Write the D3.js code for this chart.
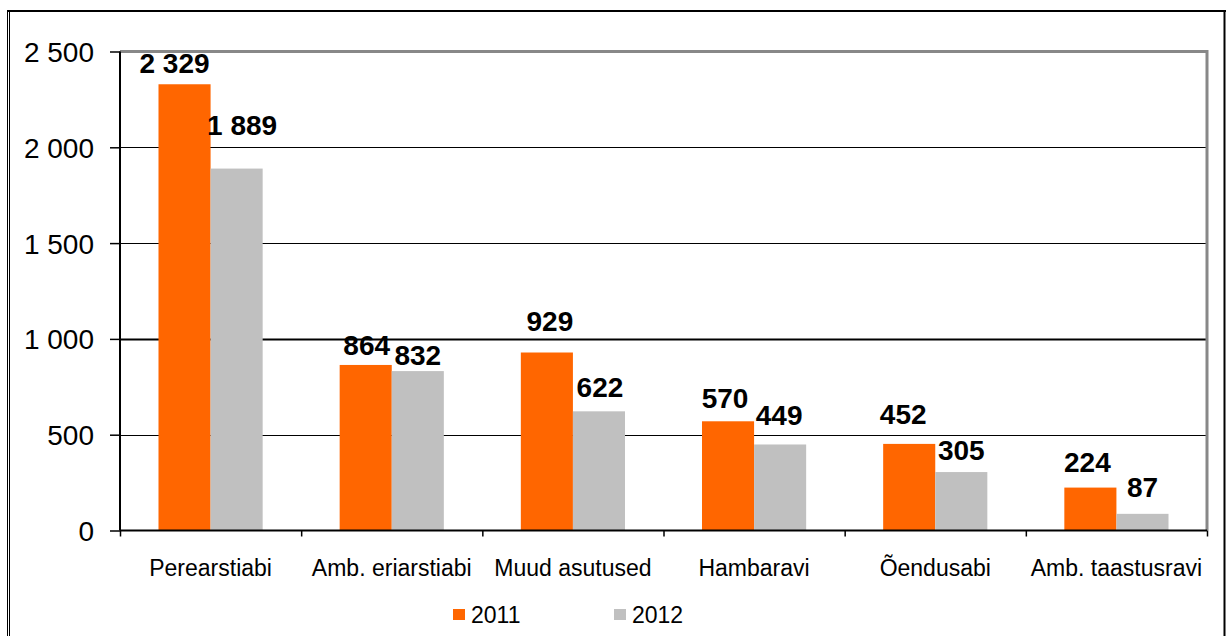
<!DOCTYPE html>
<html><head><meta charset="utf-8">
<script src="https://cdn.jsdelivr.net/npm/d3@7"></script>
<style>
html,body{margin:0;padding:0;background:#fff;}
svg{display:block;font-family:"Liberation Sans",Arial,sans-serif;}
</style></head>
<body>
<svg id="chart" width="1226" height="636"></svg>
<script>
const categories = ["Perearstiabi","Amb. eriarstiabi","Muud asutused","Hambaravi","Õendusabi","Amb. taastusravi"];
const series = ["2011","2012"];
const values2011 = [2329, 864, 929, 570, 452, 224];
const values2012 = [1889, 832, 622, 449, 305, 87];
const yTicks = [0, 500, 1000, 1500, 2000, 2500];
const colors = ["#FF6600", "#C0C0C0"];

// label placement nudges (layout only), px: dx horizontal, dy = baseline distance above bar top
const labelNudge = [
  [{dx:-10,dy:11},{dx:5.5,dy:34}],
  [{dx:1,dy:10},{dx:0,dy:6}],
  [{dx:3,dy:22},{dx:1,dy:14}],
  [{dx:-3,dy:13},{dx:-1,dy:19}],
  [{dx:-6,dy:20},{dx:0,dy:12}],
  [{dx:-3,dy:15.5},{dx:0,dy:17}]
];

const fmt = d3.formatLocale({decimal:",", thousands:" ", grouping:[3], currency:["",""]}).format(",d");

const svg = d3.select("#chart");
const mLeft = 120, mRight = 1207, mTop = 51.5, mBottom = 530.5;

const x0 = d3.scaleBand().domain(categories).range([mLeft, mRight]).paddingInner(0.425).paddingOuter(0.2125);
const x1 = d3.scaleBand().domain(series).range([0, x0.bandwidth()]);
const y = d3.scaleLinear().domain([0, 2500]).range([mBottom, mTop]);
const xb = d3.scaleLinear().domain([0, categories.length]).range([mLeft, mRight]);

// outer border
svg.append("line").attr("x1",7.5).attr("x2",7.5).attr("y1",10).attr("y2",640).attr("stroke","#000").attr("stroke-width",1);
svg.append("line").attr("x1",9.5).attr("x2",9.5).attr("y1",11).attr("y2",640).attr("stroke","#000").attr("stroke-width",1);
svg.append("line").attr("x1",7).attr("x2",1226).attr("y1",11).attr("y2",11).attr("stroke","#000").attr("stroke-width",2);
svg.append("line").attr("x1",1224.5).attr("x2",1224.5).attr("y1",10).attr("y2",640).attr("stroke","#000").attr("stroke-width",2);

// gridlines
svg.append("g").selectAll("line").data(yTicks.filter(d => d > 0 && d < 2500)).join("line")
  .attr("x1", mLeft).attr("x2", mRight)
  .attr("y1", d => Math.round(y(d)) + 0.5).attr("y2", d => Math.round(y(d)) + 0.5)
  .attr("stroke", "#000").attr("stroke-width", d => d === 1000 ? 2 : 1);

// plot area border (top and right)
svg.append("path")
  .attr("d", `M${mLeft},${y(2500)}H${mRight}V${mBottom}`)
  .attr("fill","none").attr("stroke","#888").attr("stroke-width",3);

// bars
const data = categories.map((c,i) => ({cat:c, i, vals:[values2011[i], values2012[i]]}));
const groups = svg.append("g").selectAll("g").data(data).join("g")
  .attr("transform", d => `translate(${x0(d.cat)},0)`);
groups.selectAll("rect").data(d => d.vals.map((v,j) => ({s:series[j], v, j}))).join("rect")
  .attr("x", d => x1(d.s)).attr("width", x1.bandwidth())
  .attr("y", d => y(d.v)).attr("height", d => y(0) - y(d.v))
  .attr("fill", d => colors[d.j]);

// y axis
const yAxis = svg.append("g").attr("transform", `translate(${mLeft},0)`)
  .call(d3.axisLeft(y).tickValues(yTicks).tickSize(10).tickPadding(16).tickFormat(fmt));
yAxis.select(".domain").attr("stroke","#000").attr("stroke-width",2).attr("d", `M0,${mTop}V${mBottom}`);
yAxis.selectAll(".tick line").attr("stroke","#000").attr("stroke-width",1.5);
yAxis.selectAll(".tick text").attr("font-size",28).attr("fill","#000")
  .attr("font-family","'Liberation Sans',Arial,sans-serif").attr("dy","0.36em");

// x axis
const xAxis = svg.append("g").attr("transform", `translate(0,${mBottom})`)
  .call(d3.axisBottom(xb).tickValues(d3.range(categories.length + 1)).tickSize(6).tickFormat(""));
xAxis.select(".domain").attr("stroke","#000").attr("stroke-width",2).attr("d", `M${mLeft},0H${mRight}`);
xAxis.selectAll(".tick line").attr("stroke","#000").attr("stroke-width",1.5);

svg.append("g").selectAll("text").data(categories).join("text")
  .attr("x", d => x0(d) + x0.bandwidth()/2).attr("y", 576)
  .attr("text-anchor","middle").attr("font-size",23).attr("fill","#000")
  .text(d => d);

// value labels
groups.selectAll("text").data(d => d.vals.map((v,j) => ({s:series[j], v, j, n:labelNudge[d.i][j]}))).join("text")
  .attr("x", d => x1(d.s) + x1.bandwidth()/2 + d.n.dx)
  .attr("y", d => y(d.v) - d.n.dy)
  .attr("text-anchor","middle").attr("font-size",28).attr("font-weight","bold").attr("fill","#000")
  .text(d => fmt(d.v));

// legend
const legendX = [453, 614];
const lg = svg.append("g").selectAll("g").data(series).join("g")
  .attr("transform", (d,i) => `translate(${legendX[i]},609)`);
lg.append("rect").attr("width",12).attr("height",11).attr("fill",(d,i) => colors[i]);
lg.append("text").attr("x",18).attr("y",14).attr("font-size",23).attr("fill","#000").text(d => d);
</script>
</body></html>
